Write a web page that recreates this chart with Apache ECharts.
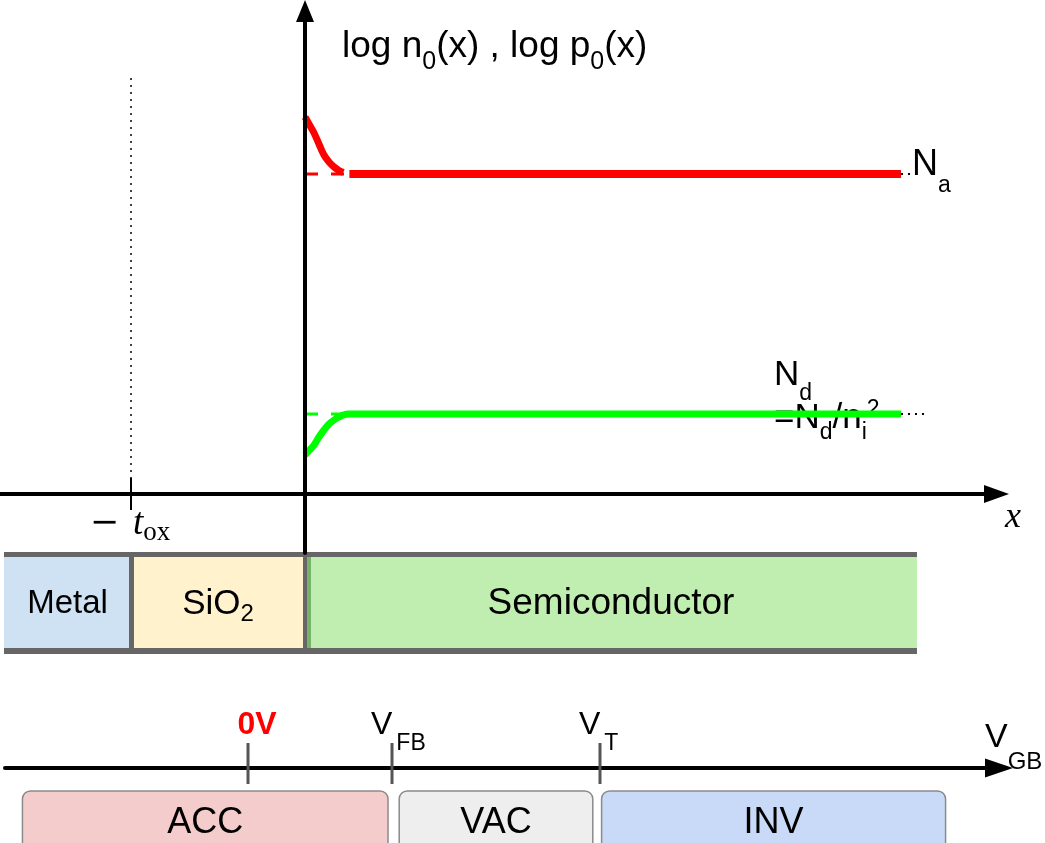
<!DOCTYPE html>
<html>
<head>
<meta charset="utf-8">
<script src="https://cdn.jsdelivr.net/npm/echarts@6.0.0/dist/echarts.min.js"></script>
<style>
html, body { margin: 0; padding: 0; background: #fff; }
#chart { width: 1045px; height: 843px; }
</style>
</head>
<body>
<div id="chart"></div>
<script>
// depth x in units of t_ox (surface at 0, gate side at -t_ox), carrier densities as log10
const tox = 1
const logNa = 16
const logN0 = 4            // ni^2 / Na in the bulk
const nearX = [0, 0.026, 0.052, 0.08, 0.109, 0.138, 0.167, 0.195, 0.22]
const holeLog = [18.85, 18.45, 18.05, 17.5, 16.95, 16.6, 16.35, 16.18, 16.08]
const elecLog = [1.95, 2.2, 2.45, 2.85, 3.2, 3.5, 3.7, 3.85, 3.95]
const holeBulkFrom = 0.255
const elecBulkFrom = 0.25
const bulkTo = 3.425
const refLineTo = 0.23
const naDotsTo = 3.5
const ndDotsTo = 3.57
const toxLineTop = 20.8

const layerNames = ['Metal', 'SiO2', 'Semiconductor']
const layerFrom = [-1.73, -1, 0]
const layerTo = [-1, 0, 3.517]

// gate bias axis (volts)
const vTicks = [0, 0.9, 2.2]
const vTickMain = ['0V', 'V', 'V']
const vTickSub = ['', 'FB', 'T']
const regionNames = ['ACC', 'VAC', 'INV']
const regionFrom = [-1.41, 0.945, 2.21]
const regionTo = [0.875, 2.155, 4.36]

const SANS = "'Liberation Sans', Arial, sans-serif"
const SERIF = "'Liberation Serif', 'DejaVu Serif', serif"

const layerFill = ['#cfe2f3', '#fff2cc', '#bfeeb0']
const layerFont = [33, 35, 37]
const regionFill = ['#f4cccc', '#eeeeee', '#c9daf8']
const vLabelLook = [
    { dx: 9, align: 'center' },
    { dx: -21, align: 'left' },
    { dx: -21, align: 'left' }
]

// main text + lowered subscript; the drop is (lh - sub) / 2
const subRich = (main, sub, lh) => ({
    m: { fontFamily: SANS, fontSize: main, lineHeight: lh, fill: '#000' },
    s: { fontFamily: SANS, fontSize: sub, lineHeight: sub, verticalAlign: 'bottom', fill: '#000' }
})

function pairs (xs, ys) {
    return xs.map((x, i) => [x, ys[i]])
}

function lineSeries (data, color, width, type, extra) {
    return Object.assign({
        type: 'line',
        xAxisIndex: 0,
        yAxisIndex: 0,
        data: data,
        showSymbol: false,
        symbol: 'none',
        silent: true,
        lineStyle: { color: color, width: width, type: type || 'solid' }
    }, extra || {})
}

const chart = echarts.init(document.getElementById('chart'))

const option = {
    animation: false,
    backgroundColor: '#fff',
    grid: [
        { left: 0, top: 11, width: 996.5, height: 542 },
        { left: 5, top: 743, width: 994, height: 41 }
    ],
    xAxis: [
        {
            gridIndex: 0,
            type: 'value',
            min: -1.753,
            max: 3.974,
            z: 10,
            axisLine: {
                onZero: true,
                symbol: ['none', 'triangle'],
                symbolSize: [18, 25],
                lineStyle: { color: '#000', width: 4 }
            },
            axisTick: {
                show: true,
                customValues: [-tox],
                length: 16,
                inside: false,
                lineStyle: { color: '#000', width: 2 }
            },
            axisLabel: { show: false },
            splitLine: { show: false }
        },
        {
            gridIndex: 1,
            type: 'value',
            min: -1.519,
            max: 4.694,
            z: 10,
            axisLine: {
                onZero: true,
                symbol: ['none', 'triangle'],
                symbolSize: [19, 28],
                lineStyle: { color: '#000', width: 4 }
            },
            axisTick: { show: false },
            axisLabel: { show: false },
            splitLine: { show: false }
        }
    ],
    yAxis: [
        {
            gridIndex: 0,
            type: 'value',
            min: -2.95,
            max: 24.15,
            z: 10,
            axisLine: {
                onZero: true,
                symbol: ['none', 'triangle'],
                symbolSize: [18, 22],
                lineStyle: { color: '#000', width: 4 }
            },
            axisTick: { show: false },
            axisLabel: { show: false },
            splitLine: { show: false }
        },
        {
            gridIndex: 1,
            type: 'value',
            min: -16,
            max: 25,
            show: false
        }
    ],
    graphic: [
        {
            type: 'text', x: 342, y: 47,
            style: {
                text: '{m|log n}{s|0}{m|(x) , log p}{s|0}{m|(x)}',
                rich: subRich(37, 25, 56),
                verticalAlign: 'middle'
            }
        },
        {
            type: 'text', x: 912, y: 165,
            style: { text: '{m|N}{s|a}', rich: subRich(36, 23, 64), verticalAlign: 'middle' }
        },
        {
            type: 'text', x: 774, y: 375,
            style: { text: '{m|N}{s|d}', rich: subRich(35, 23, 60), verticalAlign: 'middle' }
        },
        {
            type: 'text', x: 774, y: 418,
            style: {
                text: '{m|=N}{s|d}{m|/n}{s|i}{p|2}',
                rich: Object.assign(subRich(35, 23, 52), {
                    p: { fontFamily: SANS, fontSize: 23, lineHeight: 20, padding: [0, 0, 16, 0], fill: '#000' }
                }),
                verticalAlign: 'middle'
            }
        },
        {
            type: 'text', x: 1013, y: 518,
            style: { text: 'x', font: 'italic 36px ' + SERIF, fill: '#000', align: 'center', verticalAlign: 'middle' }
        },
        {
            type: 'text', x: 985, y: 738,
            style: { text: '{m|V}{s|GB}', rich: subRich(34, 24, 72), verticalAlign: 'middle' }
        }
    ],
    series: [
        // reference levels under the curves
        lineSeries(pairs([0, refLineTo], [logNa, logNa]), '#ff0000', 3, [13, 13]),
        lineSeries(pairs([0, refLineTo], [logN0, logN0]), '#00ff00', 3, [13, 13]),
        // holes
        lineSeries(pairs(nearX, holeLog), '#ff0000', 7, 'solid', { smooth: 0.3 }),
        lineSeries(pairs([holeBulkFrom, bulkTo], [logNa, logNa]), '#ff0000', 8),
        lineSeries(pairs([bulkTo, naDotsTo], [logNa, logNa]), '#000', 2, [2, 5]),
        // electrons
        lineSeries(pairs(nearX.concat([elecBulkFrom, bulkTo]), elecLog.concat([logN0, logN0])), '#00ff00', 7, 'solid', { smooth: 0.3 }),
        lineSeries(pairs([bulkTo, ndDotsTo], [logN0, logN0]), '#000', 2, [2, 5]),
        // -t_ox marker
        lineSeries(pairs([-tox, -tox], [toxLineTop, 0.8]), '#000', 1.5, [2, 5]),
        lineSeries(pairs([-tox, -tox], [0.8, 0]), '#000', 2),
        {
            type: 'custom',
            xAxisIndex: 0,
            yAxisIndex: 0,
            silent: true,
            encode: { x: 0, y: 1 },
            data: [[-tox, 0]],
            renderItem: function (params, api) {
                const p = api.coord([api.value(0), api.value(1)])
                return {
                    type: 'text',
                    x: p[0] - 1,
                    y: p[1] + 30,
                    style: {
                        text: '{m|−}{g|}{t|t}{s|ox}',
                        align: 'center',
                        verticalAlign: 'middle',
                        rich: {
                            m: { fontFamily: "'DejaVu Serif', serif", fontSize: 35, lineHeight: 44, fill: '#000' },
                            g: { width: 14, lineHeight: 44 },
                            t: { fontFamily: SERIF, fontStyle: 'italic', fontSize: 37, lineHeight: 44, fill: '#000' },
                            s: { fontFamily: SERIF, fontSize: 27, lineHeight: 22, verticalAlign: 'bottom', fill: '#000' }
                        }
                    }
                }
            }
        },
        // material stack
        {
            type: 'custom',
            xAxisIndex: 0,
            yAxisIndex: 0,
            silent: true,
            encode: { x: [0, 1], y: 2 },
            data: layerFrom.map((f, i) => [f, layerTo[i], 0]),
            renderItem: function (params, api) {
                const i = params.dataIndex
                const a = api.coord([api.value(0), 0])
                const b = api.coord([api.value(1), 0])
                const top = a[1] + 58
                const h = 102
                const kids = [
                    { type: 'rect', shape: { x: a[0], y: top, width: b[0] - a[0], height: h }, style: { fill: layerFill[i] } },
                    { type: 'rect', shape: { x: a[0], y: top, width: b[0] - a[0], height: 5 }, style: { fill: '#666666' } },
                    { type: 'rect', shape: { x: a[0], y: top + h - 6, width: b[0] - a[0], height: 6 }, style: { fill: '#666666' } }
                ]
                if (i === 1) {
                    kids.push({ type: 'rect', shape: { x: a[0] - 2, y: top, width: 5, height: h }, style: { fill: '#666666' } })
                }
                if (i === 2) {
                    kids.push({ type: 'rect', shape: { x: a[0] - 2, y: top, width: 4, height: h }, style: { fill: '#666666' } })
                    kids.push({ type: 'rect', shape: { x: a[0] + 2, y: top + 5, width: 4, height: h - 11 }, style: { fill: '#78b26a' } })
                }
                const name = layerNames[i]
                const fs = layerFont[i]
                const text = name === 'SiO2' ? '{m|SiO}{s|2}' : '{m|' + name + '}'
                kids.push({
                    type: 'text',
                    x: (a[0] + b[0]) / 2,
                    y: top + h / 2 + 1,
                    style: { text: text, rich: subRich(fs, 24, 44), align: 'center', verticalAlign: 'middle' }
                })
                return { type: 'group', children: kids }
            }
        },
        // bias regions
        {
            type: 'custom',
            xAxisIndex: 1,
            yAxisIndex: 1,
            silent: true,
            encode: { x: [0, 1], y: 2 },
            data: regionFrom.map((f, i) => [f, regionTo[i], 0]),
            renderItem: function (params, api) {
                const i = params.dataIndex
                const a = api.coord([api.value(0), 0])
                const b = api.coord([api.value(1), 0])
                const top = a[1] + 23
                return {
                    type: 'group',
                    children: [
                        {
                            type: 'rect',
                            shape: { x: a[0], y: top, width: b[0] - a[0], height: 70, r: 8 },
                            style: { fill: regionFill[i], stroke: '#8a8a8a', lineWidth: 1.5 }
                        },
                        {
                            type: 'text',
                            x: (a[0] + b[0]) / 2,
                            y: top + 32,
                            style: { text: regionNames[i], font: '36px ' + SANS, fill: '#000', align: 'center', verticalAlign: 'middle' }
                        }
                    ]
                }
            }
        },
        // bias ticks
        {
            type: 'custom',
            xAxisIndex: 1,
            yAxisIndex: 1,
            silent: true,
            z: 12,
            encode: { x: 0, y: 1 },
            data: vTicks.map(v => [v, 0]),
            renderItem: function (params, api) {
                const i = params.dataIndex
                const hi = api.coord([api.value(0), 25])
                const lo = api.coord([api.value(0), -16])
                const look = vLabelLook[i]
                const isZero = vTickSub[i] === ''
                const text = isZero ? '{z|' + vTickMain[i] + '}' : '{m|' + vTickMain[i] + '}{g|}{s|' + vTickSub[i] + '}'
                const rich = Object.assign(subRich(32, 23, 60), {
                    z: { fontFamily: SANS, fontSize: 32, fontWeight: 'bold', lineHeight: 60, fill: '#ff0000' },
                    g: { width: 4, lineHeight: 20 }
                })
                return {
                    type: 'group',
                    children: [
                        {
                            type: 'line',
                            shape: { x1: hi[0], y1: hi[1], x2: lo[0], y2: lo[1] },
                            style: { stroke: '#555', lineWidth: 3 }
                        },
                        {
                            type: 'text',
                            x: hi[0] + look.dx,
                            y: hi[1] + 12,
                            style: { text: text, rich: rich, align: look.align, verticalAlign: 'bottom' }
                        }
                    ]
                }
            }
        }
    ]
}

chart.setOption(option)
</script>
</body>
</html>
